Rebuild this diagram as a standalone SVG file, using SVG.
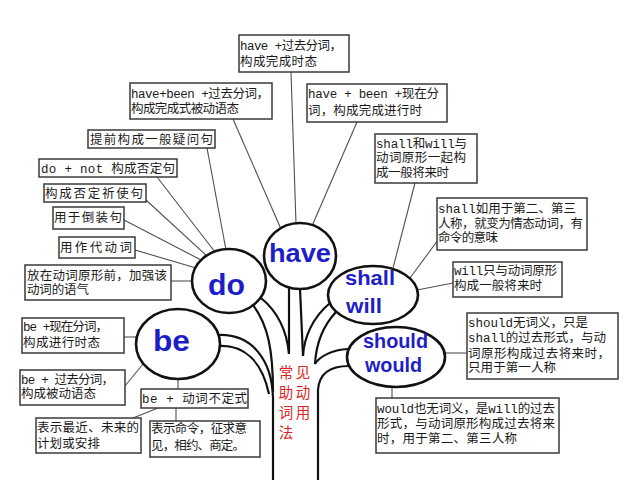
<svg xmlns="http://www.w3.org/2000/svg" width="640" height="480" viewBox="0 0 640 480">
<style>
.bg{fill:#ffffff}
.box{fill:#ffffff;stroke:#3a3a3a;stroke-width:1.5}
.t{font-family:"Liberation Mono","Noto Sans CJK SC",monospace;font-size:12.5px;fill:#1a1a1a}
.lead{stroke:#505050;stroke-width:1.1;fill:none}
.branch{fill:none;stroke:#111111;stroke-width:2.2}
.bub{fill:#ffffff;stroke:#111111;stroke-width:2.6}
.w{font-family:"Liberation Sans",Arial,sans-serif;font-weight:bold;fill:#1e1ec8}
.red{font-family:"Noto Sans CJK SC",sans-serif;font-size:14.5px;fill:#e02424;text-anchor:middle}
</style>
<rect class="bg" x="0" y="0" width="640" height="480"/>

<g id="connectors">
  <!-- tree trunk and branches -->
  <path class="branch" d="M273,480 L273,398 C272,360 252,334 219,335"/>
  <path class="branch" d="M219,346 C245,345 262,362 269,394"/>
  <path class="branch" d="M253,305 C268,325 273,350 273,392"/>
  <path class="branch" d="M261,298 C278,312 287,332 289,354"/>
  <path class="branch" d="M289,288 L289,354"/>
  <path class="branch" d="M300,289 L303,356"/>
  <path class="branch" d="M330,303 C312,318 304,338 303,356"/>
  <path class="branch" d="M336,312 C322,327 316,345 315,364"/>
  <path class="branch" d="M348,349 C332,350 320,356 315,364"/>
  <path class="branch" d="M349,366 C330,366 319,374 318,390 L318,480"/>
  <!-- have leads -->
  <line class="lead" x1="291" y1="72" x2="296" y2="224"/>
  <line class="lead" x1="233" y1="119" x2="281" y2="229"/>
  <line class="lead" x1="357" y1="122" x2="312" y2="226"/>
  <!-- do leads -->
  <line class="lead" x1="207" y1="148" x2="226" y2="250"/>
  <line class="lead" x1="157" y1="177" x2="215" y2="252"/>
  <line class="lead" x1="146" y1="200" x2="208" y2="257"/>
  <line class="lead" x1="124" y1="220" x2="203" y2="261"/>
  <line class="lead" x1="135" y1="250" x2="196" y2="268"/>
  <line class="lead" x1="171" y1="281" x2="193" y2="281"/>
  <!-- be leads -->
  <line class="lead" x1="124" y1="337" x2="137" y2="337"/>
  <line class="lead" x1="125" y1="386" x2="143" y2="364"/>
  <line class="lead" x1="178" y1="379" x2="178" y2="389"/>
  <line class="lead" x1="158" y1="408" x2="133" y2="418"/>
  <line class="lead" x1="176" y1="408" x2="176" y2="421"/>
  <!-- shall/will leads -->
  <line class="lead" x1="415" y1="183" x2="393" y2="268"/>
  <line class="lead" x1="438" y1="240" x2="410" y2="278"/>
  <line class="lead" x1="453" y1="283" x2="417" y2="290"/>
  <!-- should/would leads -->
  <line class="lead" x1="444" y1="353" x2="467" y2="353"/>
  <line class="lead" x1="392" y1="386" x2="392" y2="398"/>
</g>

<g id="node-have">
  <ellipse class="bub" cx="300" cy="256" rx="36" ry="33"/>
  <text class="w" x="269" y="262" font-size="25" textLength="62" lengthAdjust="spacingAndGlyphs">have</text>
</g>
<g id="node-do">
  <ellipse class="bub" cx="229" cy="281" rx="37" ry="32"/>
  <text class="w" x="208" y="295" font-size="29" textLength="37" lengthAdjust="spacingAndGlyphs">do</text>
</g>
<g id="node-be">
  <ellipse class="bub" cx="178" cy="344" rx="42" ry="35"/>
  <text class="w" x="153" y="351" font-size="30" textLength="37" lengthAdjust="spacingAndGlyphs">be</text>
</g>
<g id="node-shall-will">
  <ellipse class="bub" cx="373" cy="295" rx="45" ry="29"/>
  <text class="w" x="345" y="285" font-size="21" textLength="50" lengthAdjust="spacingAndGlyphs">shall</text>
  <text class="w" x="346" y="313" font-size="21" textLength="36" lengthAdjust="spacingAndGlyphs">will</text>
</g>
<g id="node-should-would">
  <ellipse class="bub" cx="396" cy="357" rx="49" ry="30"/>
  <text class="w" x="363" y="348" font-size="20" textLength="65" lengthAdjust="spacingAndGlyphs">should</text>
  <text class="w" x="365" y="372" font-size="20" textLength="57" lengthAdjust="spacingAndGlyphs">would</text>
</g>

<g id="title">
  <text class="red" x="286" y="378">常</text>
  <text class="red" x="303" y="378">见</text>
  <text class="red" x="286" y="398">助</text>
  <text class="red" x="303" y="398">动</text>
  <text class="red" x="286" y="418">词</text>
  <text class="red" x="303" y="418">用</text>
  <text class="red" x="286" y="438">法</text>
</g>

<!-- have boxes -->
<g id="box-have1">
  <rect class="box" x="239" y="35" width="110" height="37"/>
  <text class="t" x="240" y="50" textLength="102" lengthAdjust="spacing">have +过去分词，</text>
  <text class="t" x="240" y="66" textLength="77" lengthAdjust="spacing">构成完成时态</text>
</g>
<g id="box-have2">
  <rect class="box" x="130" y="83" width="142" height="36"/>
  <text class="t" x="131" y="98" textLength="138" lengthAdjust="spacing">have+been +过去分词，</text>
  <text class="t" x="131" y="113" textLength="108" lengthAdjust="spacing">构成完成式被动语态</text>
</g>
<g id="box-have3">
  <rect class="box" x="307" y="84" width="140" height="38"/>
  <text class="t" x="308" y="98" textLength="131" lengthAdjust="spacing">have + been +现在分</text>
  <text class="t" x="308" y="115" textLength="114" lengthAdjust="spacing">词，构成完成进行时</text>
</g>

<!-- do boxes -->
<g id="box-do1">
  <rect class="box" x="88" y="130" width="127" height="18"/>
  <text class="t" x="90" y="144" textLength="123" lengthAdjust="spacing">提前构成一般疑问句</text>
</g>
<g id="box-do2">
  <rect class="box" x="39" y="159" width="138" height="18"/>
  <text class="t" x="41" y="173" textLength="134" lengthAdjust="spacing">do + not 构成否定句</text>
</g>
<g id="box-do3">
  <rect class="box" x="44" y="184" width="102" height="18"/>
  <text class="t" x="45" y="198" textLength="98" lengthAdjust="spacing">构成否定祈使句</text>
</g>
<g id="box-do4">
  <rect class="box" x="53" y="207" width="71" height="22"/>
  <text class="t" x="54" y="222" textLength="68" lengthAdjust="spacing">用于倒装句</text>
</g>
<g id="box-do5">
  <rect class="box" x="59" y="237" width="76" height="21"/>
  <text class="t" x="60" y="252" textLength="72" lengthAdjust="spacing">用作代动词</text>
</g>
<g id="box-do6">
  <rect class="box" x="25" y="265" width="146" height="35"/>
  <text class="t" x="27" y="280" textLength="140" lengthAdjust="spacing">放在动词原形前，加强该</text>
  <text class="t" x="27" y="294" textLength="62" lengthAdjust="spacing">动词的语气</text>
</g>

<!-- be boxes -->
<g id="box-be1">
  <rect class="box" x="22" y="318" width="102" height="35"/>
  <text class="t" x="23" y="331" textLength="85" lengthAdjust="spacing">be +现在分词，</text>
  <text class="t" x="23" y="347" textLength="77" lengthAdjust="spacing">构成进行时态</text>
</g>
<g id="box-be2">
  <rect class="box" x="20" y="370" width="105" height="35"/>
  <text class="t" x="21" y="384" textLength="93" lengthAdjust="spacing">be + 过去分词，</text>
  <text class="t" x="21" y="398" textLength="75" lengthAdjust="spacing">构成被动语态</text>
</g>
<g id="box-be3">
  <rect class="box" x="141" y="389" width="107" height="19"/>
  <text class="t" x="142" y="403" textLength="105" lengthAdjust="spacing">be + 动词不定式</text>
</g>
<g id="box-be4">
  <rect class="box" x="36" y="418" width="105" height="35"/>
  <text class="t" x="37" y="432" textLength="102" lengthAdjust="spacing">表示最近、未来的</text>
  <text class="t" x="37" y="448" textLength="63" lengthAdjust="spacing">计划或安排</text>
</g>
<g id="box-be5">
  <rect class="box" x="150" y="421" width="110" height="36"/>
  <text class="t" x="151" y="433" textLength="96" lengthAdjust="spacing">表示命令，征求意</text>
  <text class="t" x="151" y="450" textLength="94" lengthAdjust="spacing">见，相约、商定。</text>
</g>

<!-- shall/will boxes -->
<g id="box-shall1">
  <rect class="box" x="375" y="134" width="102" height="49"/>
  <text class="t" x="376" y="148" textLength="91" lengthAdjust="spacing">shall和will与</text>
  <text class="t" x="376" y="162" textLength="90" lengthAdjust="spacing">动词原形一起构</text>
  <text class="t" x="376" y="177" textLength="73" lengthAdjust="spacing">成一般将来时</text>
</g>
<g id="box-shall2">
  <rect class="box" x="437" y="198" width="150" height="52"/>
  <text class="t" x="438" y="213" textLength="138" lengthAdjust="spacing">shall如用于第二、第三</text>
  <text class="t" x="438" y="228" textLength="145" lengthAdjust="spacing">人称，就变为情态动词，有</text>
  <text class="t" x="438" y="242" textLength="60" lengthAdjust="spacing">命令的意味</text>
</g>
<g id="box-shall3">
  <rect class="box" x="453" y="262" width="109" height="35"/>
  <text class="t" x="454" y="275" textLength="103" lengthAdjust="spacing">will只与动词原形</text>
  <text class="t" x="454" y="290" textLength="88" lengthAdjust="spacing">构成一般将来时</text>
</g>

<!-- should/would boxes -->
<g id="box-should">
  <rect class="box" x="467" y="313" width="151" height="66"/>
  <text class="t" x="468" y="327" textLength="120" lengthAdjust="spacing">should无词义，只是</text>
  <text class="t" x="468" y="342" textLength="138" lengthAdjust="spacing">shall的过去形式，与动</text>
  <text class="t" x="468" y="358" textLength="142" lengthAdjust="spacing">词原形构成过去将来时，</text>
  <text class="t" x="468" y="372" textLength="88" lengthAdjust="spacing">只用于第一人称</text>
</g>
<g id="box-would">
  <rect class="box" x="376" y="398" width="183" height="55"/>
  <text class="t" x="377" y="413" textLength="178" lengthAdjust="spacing">would也无词义，是will的过去</text>
  <text class="t" x="377" y="428" textLength="178" lengthAdjust="spacing">形式，与动词原形构成过去将来</text>
  <text class="t" x="377" y="443" textLength="140" lengthAdjust="spacing">时，用于第二、第三人称</text>
</g>
</svg>
